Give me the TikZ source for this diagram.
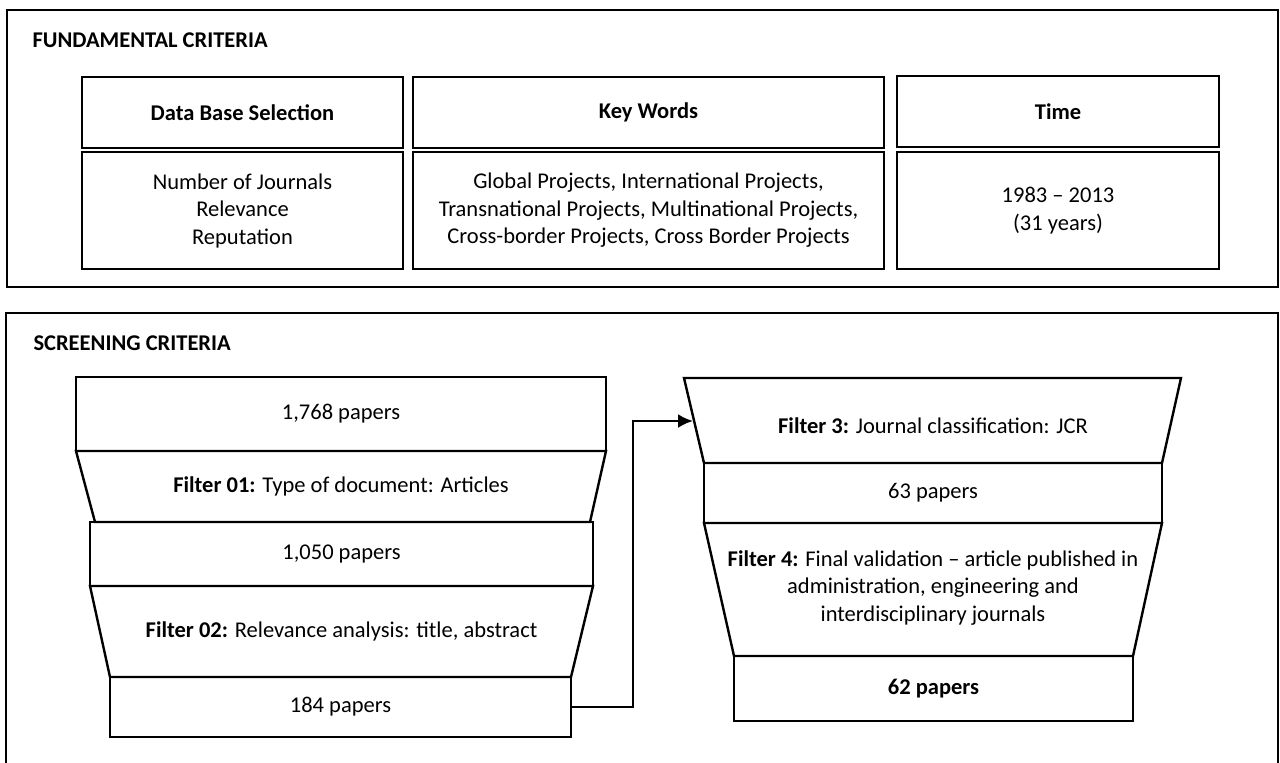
\documentclass[tikz,border=0pt]{standalone}
\usepackage{fontspec}
\setmainfont{Carlito}
\usetikzlibrary{arrows.meta, positioning}

\begin{document}
\begin{tikzpicture}[
        x=1pt, y=-1pt,
        every node/.style={align=center, font=\fontsize{22.5}{27.5}\selectfont},
        box/.style={draw, line width=2.4pt, inner sep=0pt},
        frame/.style={line width=2.4pt},
        title/.style={anchor=west, font=\fontsize{22.5}{26}\selectfont\bfseries},
        arrow/.style={-{Latex[length=15pt, width=14pt]}, line width=2.4pt}
    ]
    \useasboundingbox (0,0) rectangle (1280,763);

    % Fundamental criteria
    \draw[frame] (7,10) rectangle (1278,287);
    \node (fundtitle) [title] at (29,40) {FUNDAMENTAL CRITERIA};

    \node (dbhead) [box, minimum width=321pt, minimum height=71pt] at (242.5,112.5) {\textbf{Data Base Selection}};
    \node (dbbody) [box, minimum width=321pt, minimum height=117pt] at (242.5,210.5) {Number of Journals\\Relevance\\Reputation};
    \node (kwhead) [box, minimum width=471pt, minimum height=71pt] at (648.5,112.5) {\textbf{Key Words}};
    \node (kwbody) [box, minimum width=471pt, minimum height=117pt] at (648.5,210.5) {Global Projects, International Projects,\\Transnational Projects, Multinational Projects,\\Cross-border Projects, Cross Border Projects};
    \node (timehead) [box, minimum width=322pt, minimum height=71pt] at (1058,111.5) {\textbf{Time}};
    \node (timebody) [box, minimum width=322pt, minimum height=117pt] at (1058,210.5) {1983 -- 2013\\(31 years)};

    % Screening criteria
    \draw[frame] (6,770) |- (1278,313) -- (1278,770);
    \node (screentitle) [title] at (30,343) {SCREENING CRITERIA};

    % left funnel
    \draw[frame] (76,451) -- (606,451) -- (590,522) -- (95,522) -- cycle;
    \draw[frame] (90,586) -- (593,586) -- (571,677) -- (110,677) -- cycle;
    \node (p1768) [box, minimum width=530pt, minimum height=74pt] at (341,414) {1,768 papers};
    \node (filterA) at (341,486) {\textbf{Filter 01:} Type of document: Articles};
    \node (p1050) [box, minimum width=503pt, minimum height=64pt] at (341.5,554) {1,050 papers};
    \node (filterB) at (341.5,631) {\textbf{Filter 02:} Relevance analysis: title, abstract};
    \node (p184) [box, minimum width=461pt, minimum height=60pt] at (340.5,707) {184 papers};

    % right funnel
    \draw[frame] (684,378) -- (1181,378) -- (1162,463) -- (704,463) -- cycle;
    \draw[frame] (704,523) -- (1162,523) -- (1133,656) -- (734,656) -- cycle;
    \node (filterC) at (933,426) {\textbf{Filter 3:} Journal classification: JCR};
    \node (p63) [box, minimum width=458pt, minimum height=60pt] at (933,493) {63 papers};
    \node (filterD) at (933,588) {\textbf{Filter 4:} Final validation -- article published in\\administration, engineering and\\interdisciplinary journals};
    \node (p62) [box, minimum width=399pt, minimum height=65pt] at (933.5,688.5) {\textbf{62 papers}};

    % Connection
    \coordinate (turn) at (633,421);
    \coordinate (filterCin) at (693,421);
    \draw[arrow] (p184.east) -| (turn) -- (filterCin);

\end{tikzpicture}
\end{document}
